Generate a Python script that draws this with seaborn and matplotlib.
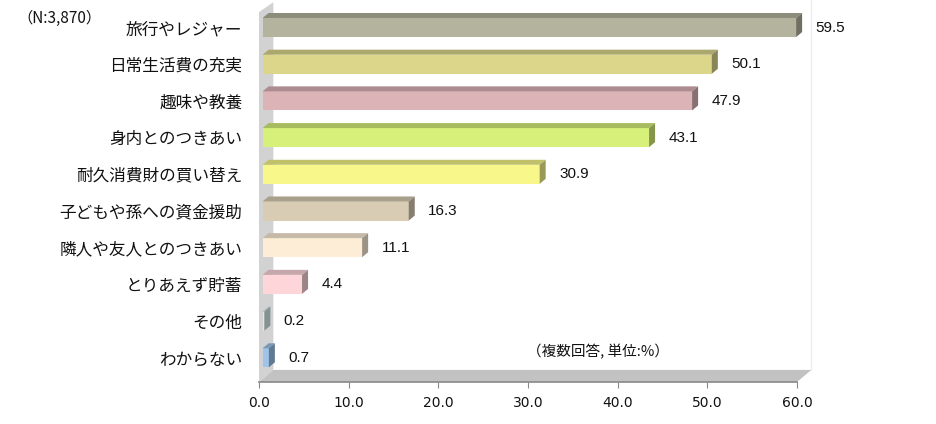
import numpy as np
import pandas as pd
import matplotlib
matplotlib.use("Agg")
import matplotlib.pyplot as plt
import seaborn as sns
from matplotlib.patches import Polygon
from matplotlib.colors import to_rgb

categories = ["旅行やレジャー", "日常生活費の充実", "趣味や教養", "身内とのつきあい",
              "耐久消費財の買い替え", "子どもや孫への資金援助", "隣人や友人とのつきあい",
              "とりあえず貯蓄", "その他", "わからない"]
values = [59.5, 50.1, 47.9, 43.1, 30.9, 16.3, 11.1, 4.4, 0.2, 0.7]
face_colors = ["#b4b49e", "#dcd68a", "#dcb4b8", "#d6f07a", "#f8f88a",
               "#d8ccb4", "#fdedd6", "#fed6da", "#d6ecec", "#9ec4ea"]
xticks = [0, 10, 20, 30, 40, 50, 60]

df = pd.DataFrame({"cat": categories, "val": values})

sns.set_style("white")
plt.rcParams['font.family'] = ['Noto Sans CJK JP', 'DejaVu Sans']

fig = plt.figure(figsize=(9.37, 4.24), dpi=100)
ax = fig.add_axes([259 / 937, 42 / 424, 538 / 937, 382 / 424])

sns.barplot(data=df, x="val", y="cat", hue="cat", palette=face_colors,
            legend=False, width=0.52, ax=ax, saturation=1, zorder=2,
            edgecolor="none", linewidth=0)
bars = [p for cont in ax.containers for p in cont]

# 3D-ish walls
dxw, dyw = 1.6, 0.33
ybot, ytop = 9.66, -0.42
ax.add_patch(Polygon([(0, ybot), (0, ytop), (dxw, ytop - 0.27), (dxw, ybot - dyw)],
                     closed=True, fc="#d2d2d2", ec="none", zorder=0, clip_on=False))
ax.add_patch(Polygon([(0, ybot), (60, ybot), (60 + dxw, ybot - dyw), (dxw, ybot - dyw)],
                     closed=True, fc="#c2c2c2", ec="none", zorder=0, clip_on=False))
ax.plot([60 + dxw, 60 + dxw], [ybot - dyw, -0.75], color="#ececec", lw=1,
        clip_on=False, zorder=0)

# top and side faces of the bars
dx, dy = 0.67, 0.136
for p, c in zip(bars, face_colors):
    p.set_x(p.get_x() + 0.4)
    x0, y0, w, h = p.get_x(), p.get_y(), p.get_width(), p.get_height()
    rgb = np.array(to_rgb(c))
    top = Polygon([(x0, y0), (x0 + w, y0), (x0 + w + dx, y0 - dy), (x0 + dx, y0 - dy)],
                  closed=True, fc=rgb * 0.78, ec="none", zorder=2, clip_on=False)
    side = Polygon([(x0 + w, y0), (x0 + w, y0 + h), (x0 + w + dx, y0 + h - dy),
                    (x0 + w + dx, y0 - dy)],
                   closed=True, fc=rgb * 0.62, ec="none", zorder=2, clip_on=False)
    ax.add_patch(top)
    ax.add_patch(side)
    ax.text(x0 + w + dx + 1.5, y0 + h / 2, f"{w:.1f}", va="center", ha="left",
            fontsize=11, family="Liberation Sans", color="#111111", clip_on=False)

ax.set_xlim(0, 60)
ax.set_ylim(ybot, -0.75)
ax.set_xticks(xticks)
ax.set_xticklabels([f"{t:.1f}" for t in xticks], family="DejaVu Sans", fontsize=10)
ax.set_xlabel("")
ax.set_ylabel("")
for s in ["top", "right", "left"]:
    ax.spines[s].set_visible(False)
ax.spines["bottom"].set_color("#888888")
ax.spines["bottom"].set_linewidth(1.2)
ax.tick_params(axis="x", direction="out", length=4, color="#888888", pad=6,
               bottom=True, labelcolor="#111111")
ax.tick_params(axis="y", length=0, pad=12, labelsize=12, labelcolor="#111111")

fig.text(17 / 937, 1 - 18 / 424, "（N:3,870）", fontsize=11, va="center", ha="left",
         color="#111111")
fig.text(527 / 937, 1 - 352 / 424, "（複数回答, 単位:%）", fontsize=10.5, va="center",
         ha="left", color="#111111")

fig.savefig("out.png", dpi=100)
